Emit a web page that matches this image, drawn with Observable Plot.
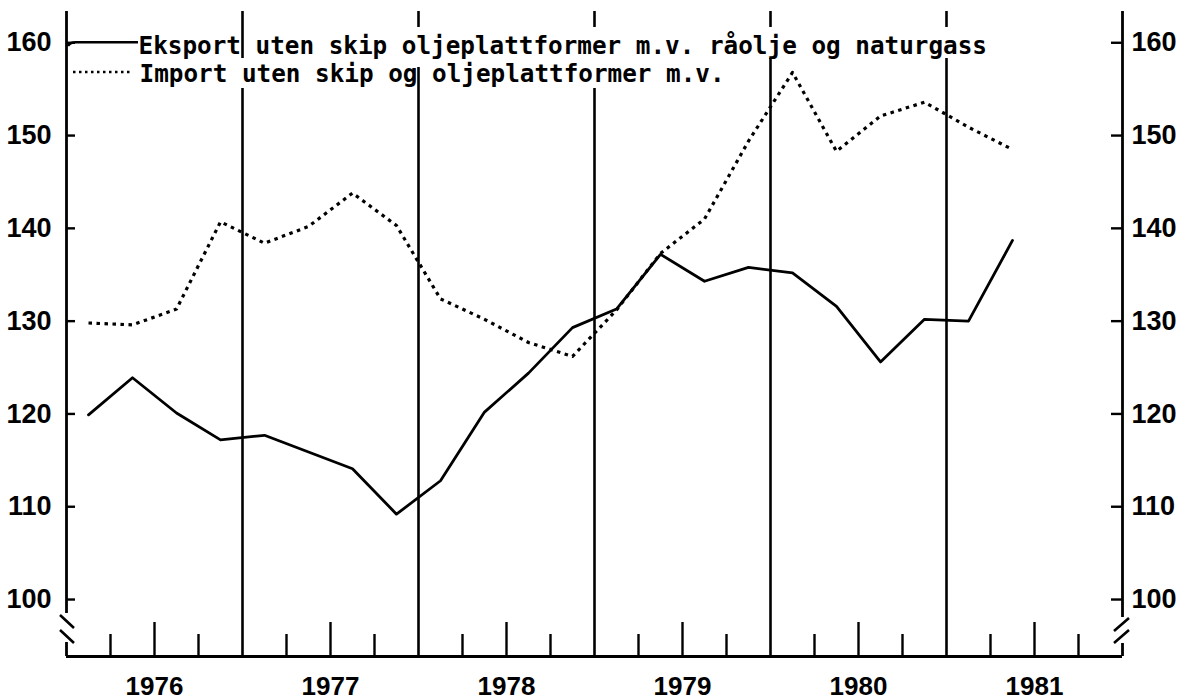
<!DOCTYPE html>
<html>
<head>
<meta charset="utf-8">
<script src="https://cdn.jsdelivr.net/npm/d3@7"></script>
<script src="https://cdn.jsdelivr.net/npm/@observablehq/plot@0.6"></script>
<style>
  html, body { margin: 0; padding: 0; background: #fff; }
  #chart { width: 1188px; height: 700px; overflow: hidden; }
</style>
</head>
<body>
<div id="chart"></div>
<script>
// ---- Data ----
const years = [1976, 1977, 1978, 1979, 1980, 1981];
const yearLabels = ["1976", "1977", "1978", "1979", "1980", "1981"];
const quarters = [
  "1976K1","1976K2","1976K3","1976K4",
  "1977K1","1977K2","1977K3","1977K4",
  "1978K1","1978K2","1978K3","1978K4",
  "1979K1","1979K2","1979K3","1979K4",
  "1980K1","1980K2","1980K3","1980K4",
  "1981K1","1981K2"
];
const exportValues = [119.9, 123.9, 120.1, 117.2, 117.7, 115.9, 114.1, 109.2,
                      112.8, 120.2, 124.4, 129.3, 131.3, 137.2, 134.3, 135.8,
                      135.2, 131.6, 125.6, 130.2, 130.0, 138.7];
const importValues = [129.8, 129.6, 131.3, 140.7, 138.4, 140.2, 143.8, 140.3,
                      132.4, 130.2, 127.7, 126.2, 131.2, 137.3, 141.0, 149.4,
                      156.8, 148.3, 152.1, 153.6, 150.9, 148.5];
const yTicks = [100, 110, 120, 130, 140, 150, 160];
const legendLabels = [
  "Eksport uten skip oljeplattformer m.v. råolje og naturgass",
  "Import uten skip og oljeplattformer m.v."
];

// ---- Derived table ----
const t = q => +q.slice(0, 4) + (+q.slice(5) - 1) / 4 + 1 / 8; // middle of quarter
const rows = quarters.map((q, i) => ({t: t(q), exp: exportValues[i], imp: importValues[i]}));
const quarterTicks = years.flatMap(y => [0.25, 0.5, 0.75].map(f => ({x: y + f, mid: f === 0.5})));
const yearBounds = years.slice(1);

const W = 1188, H = 700;
const M = {top: 11, right: 66, bottom: 44, left: 66};
const frameH = H - M.top - M.bottom;
const frameW = W - M.left - M.right;
const numFont = "'Liberation Sans', Arial, sans-serif";
const monoFont = "'DejaVu Sans Mono', 'Liberation Mono', monospace";

// decorations: legend line samples and axis break marks
function decorations() {
  const ml = M.left, mt = M.top, xr = W - M.right;
  const g = d3.create("svg:g").attr("fill", "none").attr("stroke", "black").attr("stroke-linecap", "butt");
  g.append("path").attr("d", `M${ml + 2},${mt + 35}Q${ml + 4},${mt + 31.3} ${ml + 10},${mt + 31.3}L${ml + 72},${mt + 31.3}`).attr("stroke-width", 2.6);
  g.append("line").attr("x1", ml + 7).attr("x2", ml + 67).attr("y1", mt + 61).attr("y2", mt + 61)
    .attr("stroke-width", 2.4).attr("stroke-dasharray", "2.5,3.5");
  const yb = 629;
  g.append("path").attr("d", `M${ml - 6},${yb - 14}L${ml + 8},${yb - 1}M${ml - 6},${yb + 1}L${ml + 8},${yb + 14}`).attr("stroke-width", 2.6);
  const yr = 630;
  g.append("path").attr("d", `M${xr - 8},${yr + 1}L${xr + 7},${yr - 12}M${xr - 8},${yr + 13}L${xr + 7},${yr}`).attr("stroke-width", 2.6);
  return g.node();
}

const lineY = px => px - M.top;
const plot = Plot.plot({
  width: W, height: H,
  marginTop: M.top, marginRight: M.right, marginBottom: M.bottom, marginLeft: M.left,
  x: {domain: [1976, 1982], axis: null},
  y: {domain: [93.86, 163.37], axis: null},
  style: {background: "white", overflow: "visible", color: "black"},
  marks: [
    Plot.ruleX(yearBounds.filter(y => y !== 1977), {x: d => d, insetBottom: H - M.bottom - 27, strokeWidth: 2.6}),
    Plot.ruleX(yearBounds.filter(y => y === 1977), {x: d => d, insetBottom: H - M.bottom - 58, strokeWidth: 2.6}),
    Plot.ruleX(yearBounds.filter(y => y === 1977 || y === 1979), {x: d => d, insetTop: lineY(88), strokeWidth: 2.6}),
    Plot.ruleX(yearBounds.filter(y => y === 1978), {x: d => d, insetTop: lineY(67), strokeWidth: 2.6}),
    Plot.ruleX(yearBounds.filter(y => y >= 1980), {x: d => d, insetTop: lineY(58), strokeWidth: 2.6}),
    Plot.ruleX([1976], {x: d => d, insetBottom: H - M.bottom - 613, strokeWidth: 2.8}),
    Plot.ruleX([1976], {x: d => d, insetTop: lineY(642), strokeWidth: 2.8}),
    Plot.ruleX([1982], {x: d => d, insetBottom: H - M.bottom - 617, strokeWidth: 2.8}),
    Plot.ruleX([1982], {x: d => d, insetTop: lineY(643), strokeWidth: 2.8}),
    Plot.ruleY([93.86], {y: d => d, strokeWidth: 2.8}),
    Plot.ruleX(quarterTicks.filter(d => !d.mid), {x: "x", insetTop: frameH - 22, strokeWidth: 2.4}),
    Plot.ruleX(quarterTicks.filter(d => d.mid), {x: "x", insetTop: frameH - 34, strokeWidth: 2.4}),
    Plot.ruleY(yTicks, {y: d => d, insetRight: frameW - 9, strokeWidth: 2.4}),
    Plot.ruleY(yTicks, {y: d => d, insetLeft: frameW - 11, strokeWidth: 2.4}),
    Plot.text(yTicks, {y: d => d, text: d => String(d), frameAnchor: "left", textAnchor: "end", dx: -15,
      fontSize: 27, fontFamily: numFont, fontWeight: "bold", fill: "black"}),
    Plot.text(yTicks, {y: d => d, text: d => String(d), frameAnchor: "right", textAnchor: "start", dx: 9,
      fontSize: 27, fontFamily: numFont, fontWeight: "bold", fill: "black"}),
    Plot.text(yearLabels, {x: d => +d + 0.5, text: d => d, frameAnchor: "bottom", dy: 30, lineAnchor: "middle",
      fontSize: 26, fontFamily: numFont, fontWeight: "bold", fill: "black"}),
    Plot.line(rows, {x: "t", y: "imp", stroke: "black", strokeWidth: 3.2, strokeDasharray: "3.5,4.5", strokeLinecap: "butt"}),
    Plot.line(rows, {x: "t", y: "exp", stroke: "black", strokeWidth: 2.8, strokeLinejoin: "round"}),
    Plot.text([legendLabels[0]], {text: d => d, frameAnchor: "top-left", textAnchor: "start", lineAnchor: "bottom",
      dx: 72, dy: 42, fontSize: 24.3, fontFamily: monoFont, fontWeight: "bold", fill: "black"}),
    Plot.text([legendLabels[1]], {text: d => d, frameAnchor: "top-left", textAnchor: "start", lineAnchor: "bottom",
      dx: 73, dy: 70, fontSize: 24.3, fontFamily: monoFont, fontWeight: "bold", fill: "black"}),
    decorations
  ]
});
document.getElementById("chart").appendChild(plot);
</script>
</body>
</html>
